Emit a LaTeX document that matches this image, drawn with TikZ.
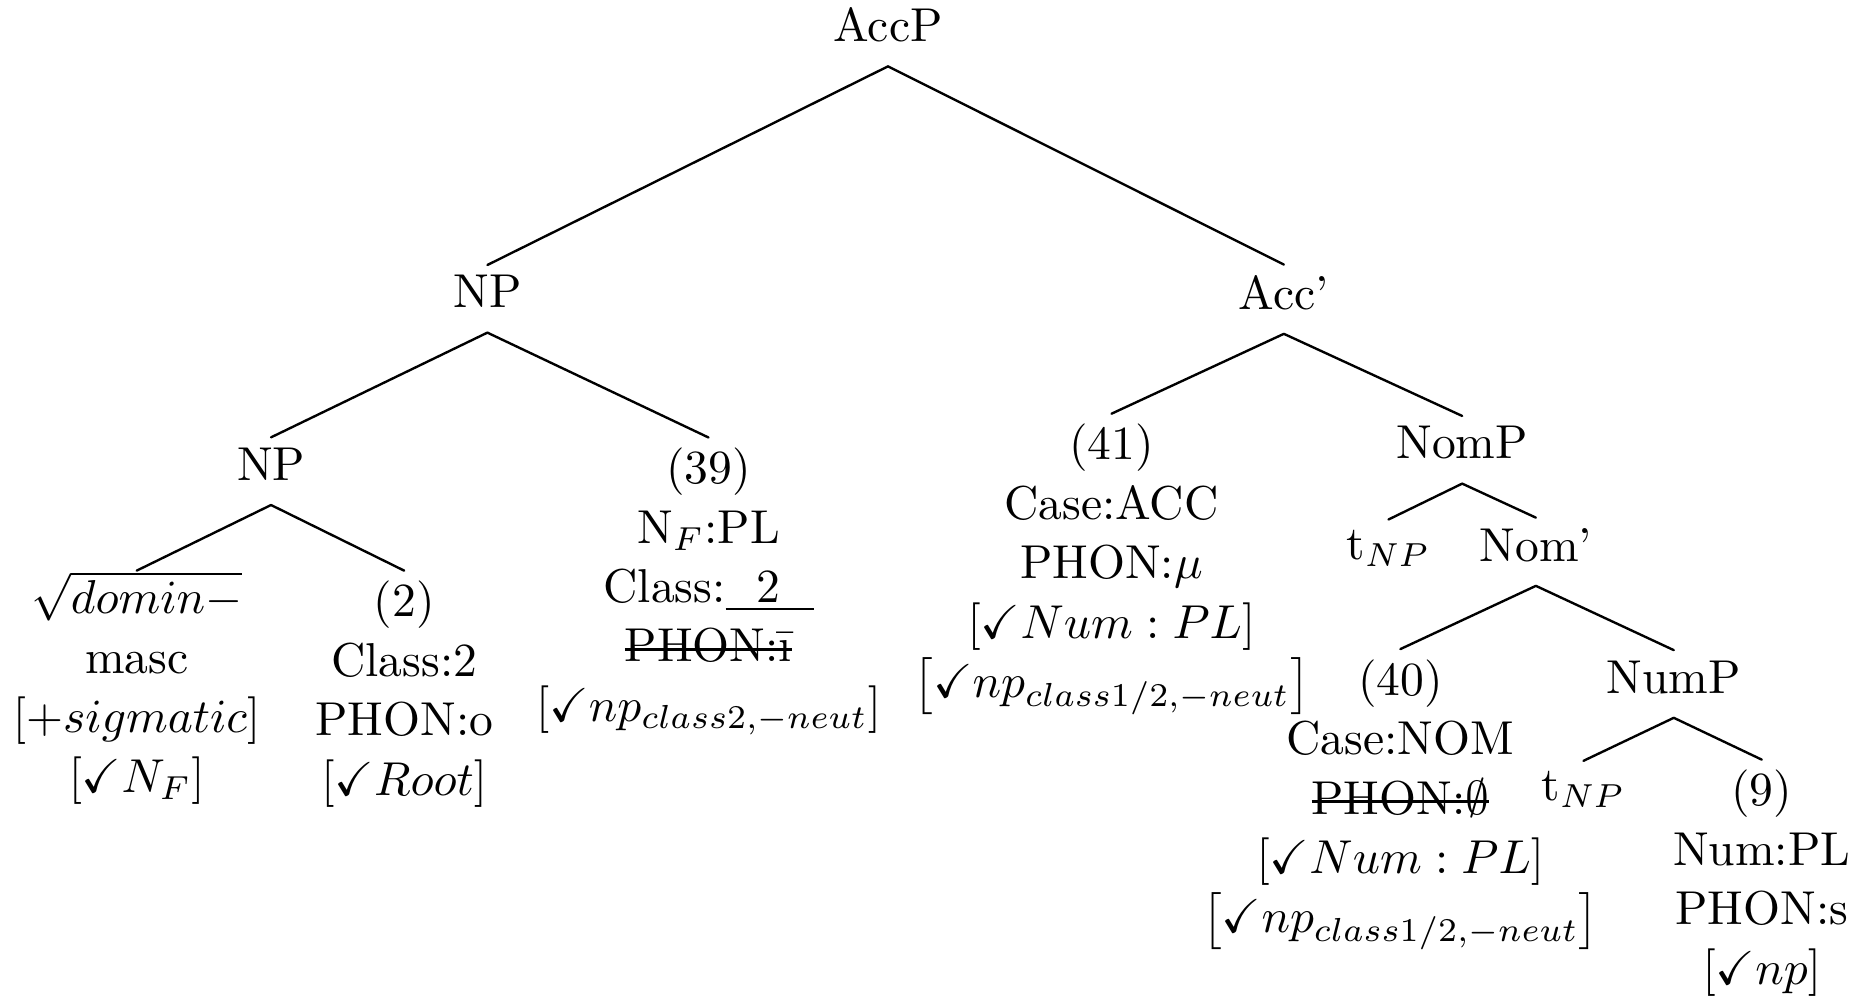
\documentclass[tikz,border=0pt]{standalone}
\usepackage{amssymb}
% text with a horizontal line drawn through it
\newsavebox\strikebox
\newcommand\struckout[1]{\sbox\strikebox{#1}\rlap{\rule[2.4pt]{\wd\strikebox}{0.5pt}}\usebox\strikebox}
\begin{document}
\begin{tikzpicture}[x=0.25pt,y=-0.25pt,
  lbl/.style={inner xsep=1pt, inner ysep=2pt, font=\fontsize{10pt}{12.5pt}\selectfont},
  phrase/.style={lbl, text depth=3pt, anchor=base},
  leaf/.style={lbl, align=center, anchor=north},
  branch/.style={line width=0.5pt, line cap=round}]
\useasboundingbox (0,0) rectangle (1568,840);

% phrase-level nodes
\node[phrase] (accp)   at (747,35)   {AccP};
\node[phrase] (np)     at (410,259)  {NP};
\node[phrase] (accbar) at (1080,260) {Acc'};
\node[phrase] (npl)    at (228,404)  {NP};
\node[phrase] (nomp)   at (1230,386) {NomP};
\node[phrase] (nombar) at (1292,472) {Nom'};
\node[phrase] (nump)   at (1408,583) {NumP};

% terminal feature bundles
\node[leaf, inner ysep=0pt] (root) at (115,480) {$\sqrt{domin-}$\\masc\\$[+sigmatic]$\\$[\checkmark N_F]$};
\node[leaf] (n2)   at (340,480) {(2)\\Class:2\\PHON:o\\$[\checkmark Root]$};
\node[leaf] (n39)  at (596,368) {(39)\\N$_F$:PL\\Class:\underline{\hspace{0.65em}2\hspace{0.7em}}\\\struckout{PHON:{\=\i}}\\$\left[\checkmark np_{class2,-neut}\right]$};
\node[leaf] (n41)  at (935,348) {(41)\\Case:ACC\\PHON:$\mu$\\$[\checkmark Num:PL]$\\$\left[\checkmark np_{class1/2,-neut}\right]$};
\node[leaf] (tnp1) at (1168,437) {t$_{NP}$};
\node[leaf] (n40)  at (1178,546) {(40)\\Case:NOM\\\struckout{PHON:$\emptyset$}\\$[\checkmark Num:PL]$\\$\left[\checkmark np_{class1/2,-neut}\right]$};
\node[leaf] (tnp2) at (1332,640) {t$_{NP}$};
\node[leaf] (n9)   at (1482,639) {(9)\\Num:PL\\PHON:s\\$[\checkmark np]$};

% branches
\draw[branch] (accp.south) -- (np.north);
\draw[branch] (accp.south) -- (accbar.north);
\draw[branch] (np.south) -- (npl.north);
\draw[branch] (np.south) -- (n39.north);
\draw[branch] (npl.south) -- (root.north);
\draw[branch] (npl.south) -- (n2.north);
\draw[branch] (accbar.south) -- (n41.north);
\draw[branch] (accbar.south) -- (nomp.north);
\draw[branch] (nomp.south) -- (tnp1.north);
\draw[branch] (nomp.south) -- (nombar.north);
\draw[branch] (nombar.south) -- (n40.north);
\draw[branch] (nombar.south) -- (nump.north);
\draw[branch] (nump.south) -- (tnp2.north);
\draw[branch] (nump.south) -- (n9.north);
\end{tikzpicture}
\end{document}
